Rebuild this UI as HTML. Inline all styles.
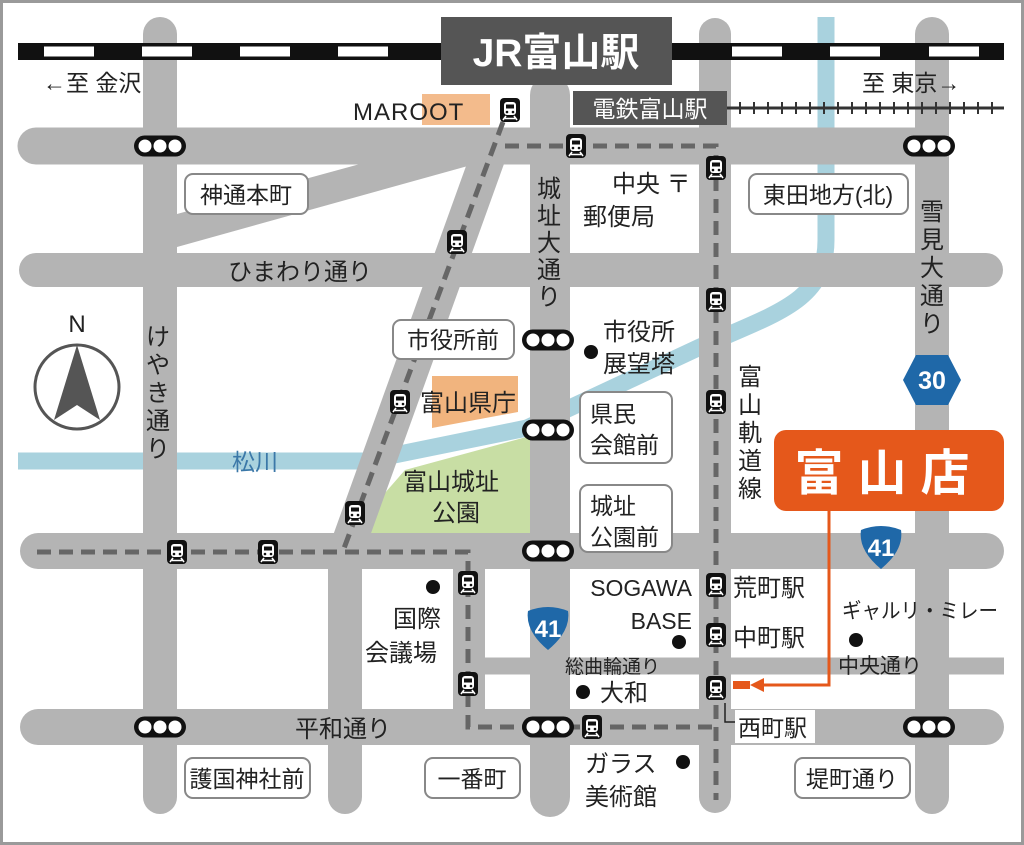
<!DOCTYPE html>
<html><head><meta charset="utf-8"><style>
html,body{margin:0;padding:0;background:#fff}
svg{display:block}
text{font-family:"Liberation Sans","Noto Sans CJK JP",sans-serif;fill:#222}
</style></head><body>
<svg width="1024" height="845" viewBox="0 0 1024 845" xmlns="http://www.w3.org/2000/svg">
<defs>
<g id="tr"><rect x="-10" y="-12" width="20" height="24" rx="4" fill="#111"/><rect x="-6" y="-8" width="12" height="13" rx="3" fill="#fff"/><rect x="-4" y="-5.5" width="8" height="4" fill="#111"/><circle cx="-3" cy="2" r="1.3" fill="#111"/><circle cx="3" cy="2" r="1.3" fill="#111"/><path d="M-4,6 L-7,10 M4,6 L7,10 M-5,8.5 H5" stroke="#fff" stroke-width="1.6" fill="none"/></g>
<g id="tl"><rect x="-26" y="-10.5" width="52" height="21" rx="10.5" fill="#111"/><circle cx="-15" cy="0" r="6.5" fill="#fff"/><circle cx="0" cy="0" r="6.5" fill="#fff"/><circle cx="15" cy="0" r="6.5" fill="#fff"/></g>
<g id="r41"><path d="M-20,-17 Q0,-25 20,-17 Q23,3 0,22 Q-23,3 -20,-17Z" fill="#1f68a8"/><text x="0" y="9" text-anchor="middle" font-size="24" font-weight="bold" style="fill:#fff">41</text></g>
</defs>
<rect x="1.5" y="1.5" width="1021" height="842" fill="#fff" stroke="#9a9a9a" stroke-width="3"/>

<polygon points="350,533 405,470 530,436 530,533" fill="#c8dea4"/>
<polygon points="432,376 518,376 518,412 432,428" fill="#f1b47e"/>
<path d="M18,461 L365,461 L527,428 L700,347 C780,312 826,300 826,240 L826,17" fill="none" stroke="#a9d2de" stroke-width="17"/>

<g stroke="#b4b4b4" fill="none">
<polygon points="177,214 360,164 475,164 177,247" fill="#b4b4b4" stroke="none"/>
<line x1="36" y1="146" x2="932" y2="146" stroke-width="37" stroke-linecap="round"/>
<line x1="36" y1="270" x2="986" y2="270" stroke-width="34" stroke-linecap="round"/>
<line x1="38" y1="551" x2="986" y2="551" stroke-width="36" stroke-linecap="round"/>
<line x1="38" y1="727" x2="986" y2="727" stroke-width="36" stroke-linecap="round"/>
<line x1="470" y1="666" x2="1004" y2="666" stroke-width="17"/>
<line x1="160" y1="34" x2="160" y2="797" stroke-width="34" stroke-linecap="round"/>
<line x1="345" y1="551" x2="345" y2="797" stroke-width="34" stroke-linecap="round"/>
<line x1="550" y1="95" x2="550" y2="797" stroke-width="40" stroke-linecap="round"/>
<line x1="715" y1="34" x2="715" y2="797" stroke-width="32" stroke-linecap="round"/>
<line x1="932" y1="34" x2="932" y2="797" stroke-width="34" stroke-linecap="round"/>
<line x1="469" y1="551" x2="469" y2="727" stroke-width="32"/>
<line x1="494" y1="140" x2="346" y2="551" stroke-width="35"/>
</g>

<rect x="18" y="43" width="986" height="17" fill="#111"/>
<g fill="#fff">
<rect x="44" y="46.5" width="50" height="10"/><rect x="142" y="46.5" width="50" height="10"/><rect x="240" y="46.5" width="50" height="10"/><rect x="338" y="46.5" width="50" height="10"/>
<rect x="732" y="46.5" width="50" height="10"/><rect x="830" y="46.5" width="50" height="10"/><rect x="929" y="46.5" width="50" height="10"/>
</g>
<rect x="441" y="17" width="231" height="68" fill="#555"/>
<text x="556" y="66" text-anchor="middle" font-size="39" font-weight="bold" style="fill:#fff">JR富山駅</text>
<text x="43" y="91" font-size="23">←至 金沢</text>
<text x="862" y="91" font-size="23">至 東京→</text>

<line x1="727" y1="108" x2="1004" y2="108" stroke="#333" stroke-width="3"/>
<g stroke="#333" stroke-width="2">
<line x1="740" y1="102" x2="740" y2="114"/><line x1="754" y1="102" x2="754" y2="114"/><line x1="768" y1="102" x2="768" y2="114"/><line x1="782" y1="102" x2="782" y2="114"/><line x1="796" y1="102" x2="796" y2="114"/><line x1="810" y1="102" x2="810" y2="114"/><line x1="824" y1="102" x2="824" y2="114"/><line x1="838" y1="102" x2="838" y2="114"/><line x1="852" y1="102" x2="852" y2="114"/><line x1="866" y1="102" x2="866" y2="114"/><line x1="880" y1="102" x2="880" y2="114"/><line x1="894" y1="102" x2="894" y2="114"/><line x1="908" y1="102" x2="908" y2="114"/><line x1="922" y1="102" x2="922" y2="114"/><line x1="936" y1="102" x2="936" y2="114"/><line x1="950" y1="102" x2="950" y2="114"/><line x1="964" y1="102" x2="964" y2="114"/><line x1="978" y1="102" x2="978" y2="114"/><line x1="992" y1="102" x2="992" y2="114"/>
</g>
<rect x="573" y="91" width="154" height="34" fill="#555"/>
<text x="650" y="117" text-anchor="middle" font-size="23" style="fill:#fff">電鉄富山駅</text>

<rect x="422" y="94" width="68" height="31" fill="#f3bb8c"/>
<text x="353" y="120" font-size="24" letter-spacing="1">MAROOT</text>

<g stroke="#666" stroke-width="5" fill="none" stroke-dasharray="14 8">
<path d="M503,122 L343,551"/>
<path d="M37,552 L468,552 L468,727 L716,727"/>
<path d="M505,146 L716,146 L716,800"/>
</g>

<use href="#tl" x="160" y="146"/><use href="#tl" x="929" y="146"/><use href="#tl" x="548" y="340"/><use href="#tl" x="548" y="430"/><use href="#tl" x="548" y="551"/><use href="#tl" x="548" y="727"/><use href="#tl" x="160" y="727"/><use href="#tl" x="929" y="727"/>

<use href="#tr" x="510" y="110"/><use href="#tr" x="576" y="146"/><use href="#tr" x="716" y="168"/><use href="#tr" x="457" y="242"/><use href="#tr" x="716" y="300"/><use href="#tr" x="400" y="402"/><use href="#tr" x="716" y="402"/><use href="#tr" x="355" y="513"/><use href="#tr" x="177" y="552"/><use href="#tr" x="268" y="552"/><use href="#tr" x="468" y="583"/><use href="#tr" x="716" y="585"/><use href="#tr" x="716" y="635"/><use href="#tr" x="468" y="684"/><use href="#tr" x="716" y="688"/><use href="#tr" x="592" y="727"/>

<g fill="#fff" stroke="#888" stroke-width="2">
<rect x="185" y="174" width="123" height="40" rx="8"/>
<rect x="749" y="174" width="159" height="40" rx="8"/>
<rect x="393" y="320" width="121" height="39" rx="8"/>
<rect x="580" y="392" width="92" height="71" rx="8"/>
<rect x="580" y="485" width="92" height="67" rx="8"/>
<rect x="185" y="758" width="125" height="40" rx="8"/>
<rect x="425" y="758" width="95" height="40" rx="8"/>
<rect x="795" y="758" width="115" height="40" rx="8"/>
</g>
<g font-size="23">
<text x="246" y="203" text-anchor="middle">神通本町</text>
<text x="828" y="203" text-anchor="middle">東田地方(北)</text>
<text x="453" y="348" text-anchor="middle">市役所前</text>
<text x="590" y="422">県民</text><text x="590" y="453">会館前</text>
<text x="590" y="514">城址</text><text x="590" y="545">公園前</text>
<text x="247" y="787" text-anchor="middle">護国神社前</text>
<text x="472" y="787" text-anchor="middle">一番町</text>
<text x="852" y="787" text-anchor="middle">堤町通り</text>
</g>

<g font-size="24">
<text x="612" y="192">中央 〒</text><text x="583" y="225">郵便局</text>
<text x="228" y="280">ひまわり通り</text>
<text x="603" y="340">市役所</text><text x="603" y="372">展望塔</text>
<text x="420" y="411">富山県庁</text>
<text x="403" y="490">富山城址</text><text x="432" y="521">公園</text>
<text x="393" y="627">国際</text><text x="365" y="661">会議場</text>
<text x="733" y="596">荒町駅</text><text x="733" y="646">中町駅</text>
<text x="600" y="701">大和</text>
<text x="295" y="737">平和通り</text>
<text x="585" y="772">ガラス</text><text x="585" y="805">美術館</text>
</g>
<g font-size="23">
<text x="692" y="596" text-anchor="end">SOGAWA</text><text x="692" y="629" text-anchor="end">BASE</text>
</g>
<text x="565" y="673" font-size="19">総曲輪通り</text>
<text x="842" y="618" font-size="21" textLength="156" lengthAdjust="spacingAndGlyphs">ギャルリ・ミレー</text>
<text x="838" y="673" font-size="21">中央通り</text>
<text x="232" y="470" font-size="23" style="fill:#3b78a8">松川</text>
<circle cx="591" cy="352" r="7" fill="#111"/><circle cx="433" cy="587" r="7" fill="#111"/><circle cx="679" cy="642" r="7" fill="#111"/><circle cx="583" cy="692" r="7" fill="#111"/><circle cx="856" cy="640" r="7" fill="#111"/><circle cx="683" cy="762" r="7" fill="#111"/>

<g font-size="24" text-anchor="middle">
<text x="549" y="197">城</text><text x="549" y="224">址</text><text x="549" y="251">大</text><text x="549" y="278">通</text><text x="549" y="305">り</text>
<text x="932" y="220">雪</text><text x="932" y="248">見</text><text x="932" y="276">大</text><text x="932" y="304">通</text><text x="932" y="332">り</text>
<text x="158" y="345">け</text><text x="158" y="373">や</text><text x="158" y="401">き</text><text x="158" y="429">通</text><text x="158" y="457">り</text>
<text x="750" y="385">富</text><text x="750" y="413">山</text><text x="750" y="441">軌</text><text x="750" y="469">道</text><text x="750" y="497">線</text>
</g>

<text x="77" y="332" text-anchor="middle" font-size="24">N</text>
<circle cx="77" cy="387" r="42" fill="none" stroke="#555" stroke-width="3"/>
<polygon points="77,345 100,420 77,405 54,420" fill="#555"/>

<polygon points="903,380 916,355 948,355 961,380 948,405 916,405" fill="#1f68a8"/>
<text x="932" y="389" text-anchor="middle" font-size="25" font-weight="bold" style="fill:#fff">30</text>
<use href="#r41" x="548" y="628"/>
<use href="#r41" x="881" y="547"/>

<rect x="774" y="430" width="230" height="81" rx="12" fill="#e5581b"/>
<text x="889" y="490" text-anchor="middle" font-size="49" font-weight="bold" letter-spacing="14" style="fill:#fff">富山店</text>
<path d="M829,511 L829,685 L760,685" fill="none" stroke="#e5581b" stroke-width="3"/>
<polygon points="750,685 764,678 764,692" fill="#e5581b"/>
<rect x="733" y="681" width="17" height="8" fill="#e5581b"/>

<path d="M725,703 L725,722 L735,722" fill="none" stroke="#222" stroke-width="1.5"/>
<rect x="735" y="710" width="80" height="33" fill="#fff"/>
<text x="738" y="736" font-size="23">西町駅</text>
</svg>
</body></html>
